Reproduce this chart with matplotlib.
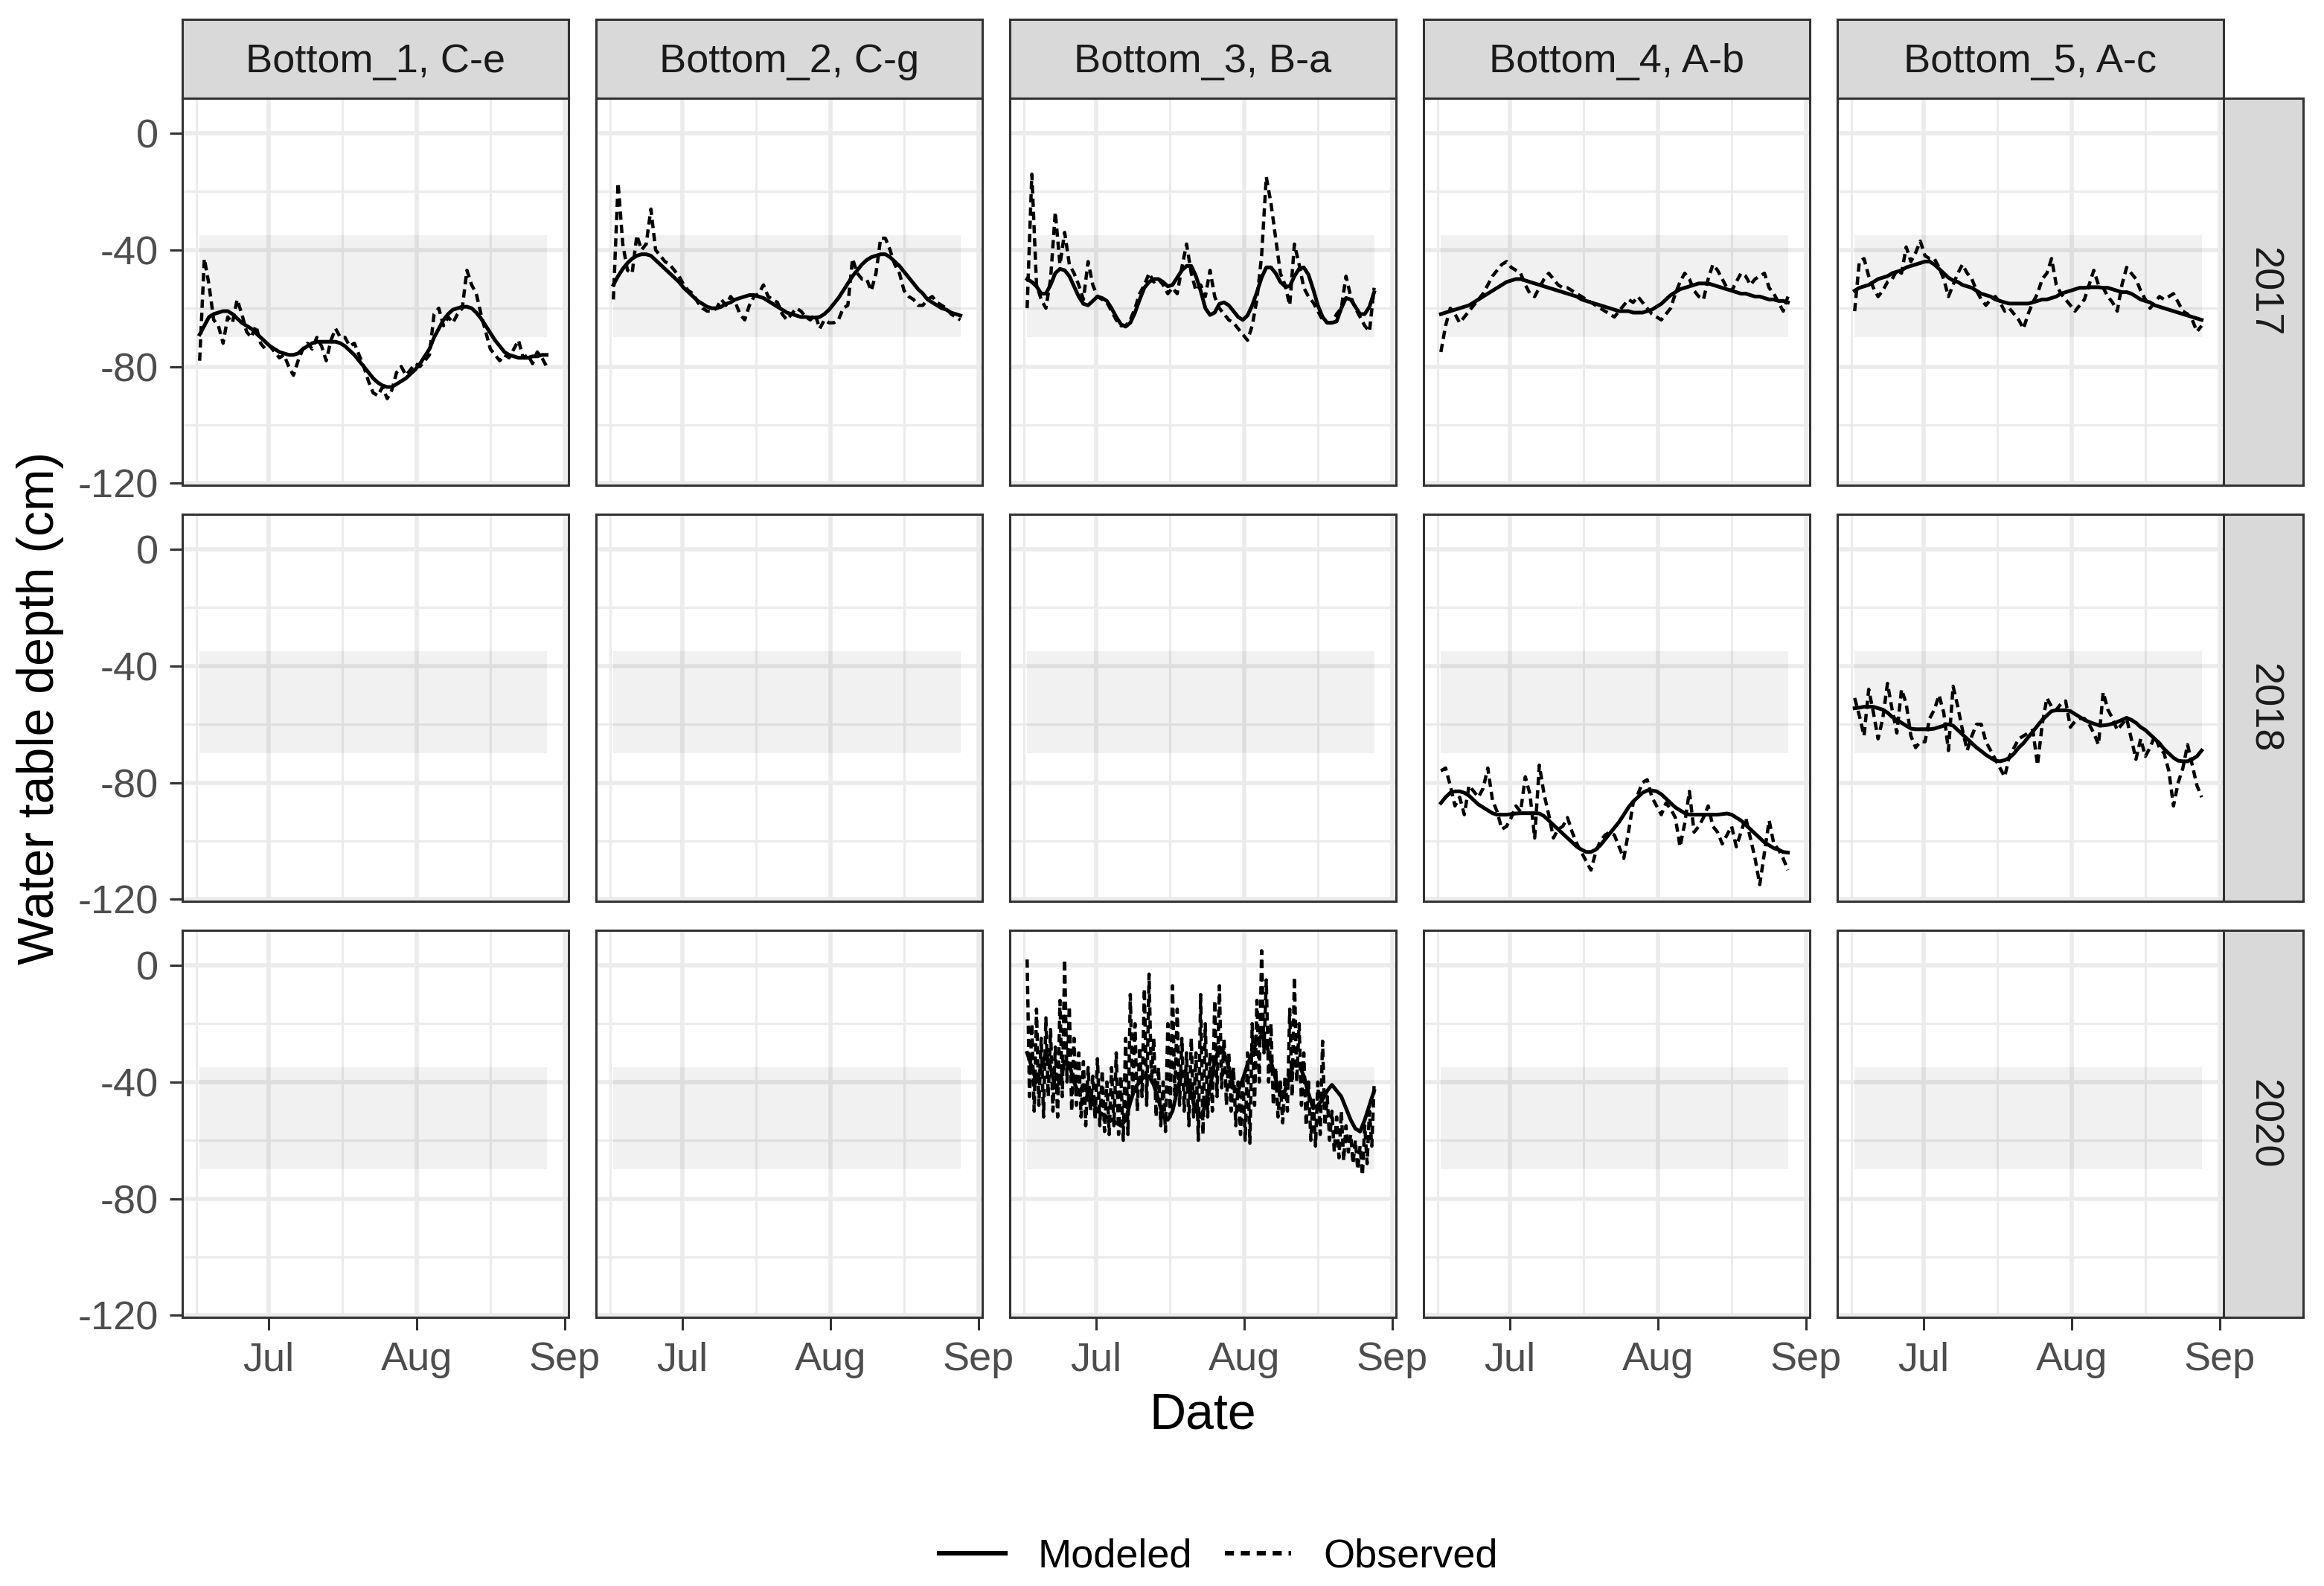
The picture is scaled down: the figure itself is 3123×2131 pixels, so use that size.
import numpy as np
import matplotlib
matplotlib.use('Agg')
import matplotlib.pyplot as plt
import matplotlib.dates as mdates
from matplotlib.lines import Line2D

plt.rcParams['font.family'] = ['Liberation Sans', 'DejaVu Sans']
plt.rcParams['axes.unicode_minus'] = False

years = ['2017', '2018', '2020']
sites = ['Bottom_1, C-e', 'Bottom_2, C-g', 'Bottom_3, B-a', 'Bottom_4, A-b', 'Bottom_5, A-c']

# all years share a common seasonal date axis
date_start = np.datetime64('2017-06-16T15:00')
date_end = np.datetime64('2017-08-28T06:00')

# target water table range (shaded band)
band_top = -35
band_bottom = -70

# daily values (cm)
mod_2017_b1 = [-69, -66, -63, -62, -61.5, -61, -61, -62, -63.5, -65,
               -66, -67, -68.5, -70, -71.5, -73, -74, -75, -75.5, -76,
               -76, -75.5, -74, -73, -72, -71.5, -71.5, -71.5, -71.5, -71.5,
               -72, -73, -74.5, -76, -78, -80, -82, -84, -85.5, -86.5,
               -87, -87, -86, -85, -84, -82.5, -81, -79, -76.5, -74,
               -70, -67, -64, -62, -60.5, -60, -59.5, -59.5, -60, -61.5,
               -63.5, -66, -68.5, -71, -73, -75, -76, -76.5, -77, -77,
               -77, -76.5, -76.5, -76, -76]
obs_2017_b1 = [-78, -43, -52, -64, -66, -72, -63, -65, -57, -62,
               -68, -70, -66, -72, -74, -73, -75, -77, -76, -80,
               -83, -78, -74, -72, -74, -70, -73, -78, -71, -67,
               -70, -70, -73, -72, -76, -80, -85, -89, -90, -87,
               -91, -88, -82, -80, -83, -81, -79, -80, -78, -76,
               -62, -60, -66, -63, -65, -62, -60, -47, -52, -55,
               -62, -68, -74, -76, -78, -76, -77, -74, -71, -77,
               -76, -79, -75, -77, -80]

mod_2017_b2 = [-52, -49, -46.5, -44.5, -43, -42, -41.5, -41.5, -42, -43.5,
               -45, -46.5, -48, -49.5, -51, -53, -54.5, -56, -57.5, -58.5,
               -59.5, -60, -60, -59.5, -58.5, -58, -57, -56.5, -56, -55.5,
               -55.5, -56, -56.5, -57.5, -58.5, -59.5, -60.5, -61.5, -62, -62.5,
               -63, -63, -63.2, -63.2, -63, -62, -60.5, -58.5, -56.5, -54,
               -51.5, -49, -47, -45, -43.5, -42.5, -42, -41.5, -41.5, -42.5,
               -44, -45.5, -47.5, -49.5, -51.5, -53.5, -55, -57, -58, -59,
               -60, -60.5, -61.5, -62, -62.5]
obs_2017_b2 = [-57, -17, -38, -47, -48, -35, -40, -38, -26, -40,
               -42, -44, -45, -47, -49, -52, -54, -55, -58, -60,
               -61, -61, -60, -57, -59, -56, -58, -62, -64, -59,
               -56, -55, -52, -56, -57, -58, -62, -64, -62, -60,
               -61, -63, -64, -62, -67, -64, -65, -65, -64, -60,
               -59, -43, -48, -50, -50, -54, -48, -36, -36, -40,
               -45, -48, -54, -56, -57, -59, -59, -57, -56, -58,
               -59, -60, -62, -63, -64]

mod_2017_b3 = [-50, -51, -52.5, -55, -55, -52, -48, -46.5, -47, -49,
               -52.5, -56, -58.5, -59, -57.5, -56, -56.5, -57.5, -60, -63,
               -65.5, -66.3, -65, -61.5, -57, -53, -51, -50, -50, -51,
               -52.5, -52, -49.5, -47, -45.5, -45.5, -49, -54, -60, -62.3,
               -61.5, -58.5, -58, -59, -61, -63, -64, -62.5, -59, -54.5,
               -49.5, -46, -46, -48, -51, -52.5, -52.5, -49, -46.5, -46,
               -48.5, -53.5, -59, -63, -65, -65, -64.5, -60, -56.5, -57,
               -59.5, -62, -62, -59.5, -54.5]
obs_2017_b3 = [-60, -14, -52, -57, -60, -50, -27, -45, -34, -45,
               -48, -52, -57, -44, -52, -56, -57, -58, -61, -64,
               -66, -66, -64, -60, -55, -52, -48, -51, -50, -52,
               -55, -53, -55, -46, -38, -48, -54, -52, -56, -47,
               -56, -60, -62, -64, -65, -67, -69, -71, -66, -57,
               -42, -15, -24, -36, -48, -52, -59, -38, -45, -53,
               -56, -58, -61, -64, -65, -65, -62, -60, -49, -56,
               -60, -63, -66, -68, -53]

mod_2017_b4 = [-62, -61.5, -61, -60.5, -60, -59.5, -59, -58, -57, -56,
               -55, -54, -53, -52, -51, -50.5, -50, -50, -50.5, -51,
               -51.5, -52, -52.5, -53, -53.5, -54, -54.5, -55, -55.5, -56,
               -57, -57.5, -58, -58.5, -59, -59.5, -60, -60.5, -61, -61,
               -61, -61.5, -61.5, -61.5, -61, -60.5, -59.5, -58.5, -57, -55.5,
               -54.5, -53.5, -53, -52.5, -52, -51.5, -51.5, -51.5, -52, -52.5,
               -53, -53.5, -54, -54.5, -55, -55, -55.5, -56, -56, -56.5,
               -57, -57, -57.5, -57.5, -58]
obs_2017_b4 = [-75, -66, -60, -62, -65, -63, -61, -59, -57, -55,
               -52, -49, -47, -45, -44, -46, -47, -48, -52, -55,
               -56, -53, -50, -48, -50, -52, -53, -53, -54, -55,
               -56, -57, -58, -59, -60, -61, -62, -63, -61, -59,
               -57, -58, -56, -58, -60, -62, -63, -64, -62, -60,
               -55, -51, -48, -50, -54, -56, -57, -50, -45, -47,
               -50, -53, -54, -51, -48, -49, -52, -50, -49, -48,
               -53, -55, -58, -61, -56]

mod_2017_b5 = [-54, -53, -52.5, -52, -51, -50, -49.5, -49, -48, -47.5,
               -47, -46, -45.5, -45, -44.5, -44, -44, -45, -46.5, -48,
               -49.5, -50.5, -51, -52, -52.5, -53, -54, -55, -55.5, -56,
               -57, -57.5, -58, -58.4, -58.4, -58.4, -58.4, -58.4, -58, -57.5,
               -57, -57, -56.5, -56, -55, -54.5, -54, -53.5, -53, -53,
               -52.8, -52.8, -52.8, -53, -53, -53.5, -54, -54.5, -54.5, -55,
               -56, -57, -57.5, -58, -59, -59.5, -60, -60.5, -61, -61.5,
               -62, -62.5, -63, -63.5, -64]
obs_2017_b5 = [-61, -44, -43, -49, -53, -56, -54, -51, -50, -47,
               -48, -39, -44, -41, -37, -42, -43, -43, -46, -50,
               -56, -52, -48, -45, -48, -50, -54, -57, -59, -57,
               -56, -58, -61, -60, -62, -64, -67, -62, -58, -55,
               -50, -48, -43, -52, -55, -57, -59, -61, -59, -57,
               -52, -47, -52, -53, -56, -58, -61, -52, -46, -48,
               -50, -54, -57, -60, -58, -56, -57, -56, -55, -58,
               -61, -62, -64, -68, -66]

mod_2018_b4 = [-87, -85, -83.5, -83, -83, -83.5, -84.5, -86, -87.5, -88.5,
               -89.5, -90.5, -91, -91, -91, -90.8, -90.6, -90.5, -90.5, -90.5,
               -90.5, -90.6, -91.5, -93, -94.5, -96, -97.5, -99, -100.5, -102,
               -103, -103.8, -103.8, -103, -101.5, -99.5, -97.5, -95.5, -93.5, -91,
               -88.5, -86.5, -85, -83.5, -82.7, -82.7, -83, -84, -85.5, -87,
               -88.5, -89.5, -90.5, -91, -91, -91, -91, -91, -91, -91,
               -90.8, -90.6, -91, -92, -93, -94.5, -96, -97.5, -99, -100.5,
               -101.5, -102.5, -103, -103.8, -104]
obs_2018_b4 = [-76, -75, -81, -88, -85, -91, -81, -83, -85, -82,
               -75, -86, -90, -96, -95, -92, -88, -90, -78, -84,
               -99, -74, -84, -91, -99, -96, -95, -92, -97, -101,
               -104, -107, -110, -104, -100, -98, -97, -98, -102, -106,
               -97, -87, -84, -80, -79, -85, -88, -91, -87, -89,
               -92, -102, -94, -83, -97, -95, -92, -88, -95, -97,
               -101, -98, -95, -102, -97, -92, -99, -106, -115, -104,
               -93, -101, -103, -106, -110]

mod_2018_b5 = [-54.5, -54.3, -54, -54, -54, -54.5, -55, -56, -57.5, -58.5,
               -59.5, -60.5, -61.5, -61.7, -61.7, -61.7, -61.7, -61.5, -61, -60.5,
               -60, -60.5, -62, -63.5, -65, -66.5, -68, -69.2, -70.5, -71.5,
               -72.5, -72.7, -72.3, -71.5, -70, -68, -66.5, -64.5, -62.5, -60.5,
               -58.5, -57, -55.5, -55.2, -55.2, -55.2, -55.5, -56.5, -57.5, -58.5,
               -59.2, -59.8, -60.3, -60.4, -60.2, -59.8, -59.2, -58.5, -57.8, -58.5,
               -59.5, -61, -62, -63.5, -65, -66.5, -68.5, -70, -71.5, -72.5,
               -72.7, -72.7, -72, -71, -69]
obs_2018_b5 = [-51, -57, -64, -48, -56, -65, -58, -46, -55, -63,
               -48, -53, -64, -68, -66, -66, -58, -55, -50, -56,
               -69, -47, -54, -62, -69, -64, -60, -60, -66, -69,
               -72, -75, -78, -71, -68, -65, -64, -63, -62, -74,
               -60, -51, -54, -55, -53, -52, -61, -59, -58, -58,
               -60, -63, -67, -49, -55, -58, -62, -60, -58, -65,
               -72, -65, -71, -68, -64, -68, -70, -76, -88, -80,
               -75, -67, -74, -81, -85]

mod_2020_b3 = [-30, -35, -40, -35, -30, -35, -42, -40, -33, -34,
               -40, -44, -41, -44, -47, -50, -51, -52, -53, -54,
               -55, -53, -47, -42, -40, -38, -38, -41, -46, -52,
               -53, -50, -43, -37, -38, -44, -50, -52, -48, -42,
               -33, -28, -30, -35, -42, -43, -39, -34, -30, -26,
               -24, -27, -33, -39, -44, -43, -38, -33, -34, -38,
               -44, -49, -48, -46, -43, -41, -43, -45, -49, -53,
               -56, -57, -53, -48, -43]
# twice-daily values (day / night)
obs_2020_b3 = [2, -45, -20, -50, -15, -48, -25, -52, -18, -45,
               -22, -50, -28, -52, -12, -45, 2, -40, -14, -50,
               -25, -48, -30, -52, -33, -55, -35, -50, -38, -53,
               -32, -55, -36, -57, -40, -58, -35, -55, -30, -58,
               -38, -60, -25, -58, -10, -45, -20, -50, -28, -45,
               -8, -48, -3, -40, -25, -52, -35, -55, -40, -57,
               -20, -52, -7, -45, -15, -48, -25, -50, -30, -55,
               -25, -52, -30, -60, -10, -58, -20, -52, -30, -50,
               -12, -45, -7, -42, -25, -48, -30, -50, -35, -55,
               -40, -58, -38, -60, -30, -61, -20, -48, -12, -40,
               5, -30, -5, -40, -20, -48, -35, -52, -40, -54,
               -38, -50, -15, -45, -4, -40, -20, -48, -30, -55,
               -40, -60, -45, -62, -40, -58, -26, -55, -45, -60,
               -50, -64, -52, -66, -50, -67, -55, -64, -58, -68,
               -60, -70, -62, -72, -55, -68, -50, -62, -41]

panels = {
    ('2017', 'Bottom_1, C-e'): (mod_2017_b1, obs_2017_b1),
    ('2017', 'Bottom_2, C-g'): (mod_2017_b2, obs_2017_b2),
    ('2017', 'Bottom_3, B-a'): (mod_2017_b3, obs_2017_b3),
    ('2017', 'Bottom_4, A-b'): (mod_2017_b4, obs_2017_b4),
    ('2017', 'Bottom_5, A-c'): (mod_2017_b5, obs_2017_b5),
    ('2018', 'Bottom_4, A-b'): (mod_2018_b4, obs_2018_b4),
    ('2018', 'Bottom_5, A-c'): (mod_2018_b5, obs_2018_b5),
    ('2020', 'Bottom_3, B-a'): (mod_2020_b3, obs_2020_b3),
}

t0 = mdates.date2num(date_start)
t1 = mdates.date2num(date_end)


def times(n):
    return np.linspace(t0, t1, n)


W, H = 3123, 2131
fig = plt.figure(figsize=(W / 200, H / 200), dpi=200)

col_left = [245, 801, 1357, 1913, 2469]
row_top = [132, 691, 1250]
pw, ph = 519, 520
edge = '#333333'


def rect(x, y, w, h):
    return [x / W, 1 - (y + h) / H, w / W, h / H]


xmin = mdates.date2num(np.datetime64('2017-06-13T00:00'))
xmax = mdates.date2num(np.datetime64('2017-09-01T20:00'))
month_starts = [mdates.date2num(np.datetime64(d)) for d in ['2017-06-01', '2017-07-01', '2017-08-01', '2017-09-01']]
minor_x = [(a + b) / 2 for a, b in zip(month_starts[:-1], month_starts[1:])]

for r, year in enumerate(years):
    for c, site in enumerate(sites):
        ax = fig.add_axes(rect(col_left[c], row_top[r], pw, ph))
        ax.set_xlim(xmin, xmax)
        ax.set_ylim(-120.7, 12.0)
        ax.xaxis_date()
        ax.set_xticks(month_starts[1:])
        ax.xaxis.set_major_formatter(mdates.DateFormatter('%b'))
        ax.set_xticks(minor_x, minor=True)
        ax.set_yticks([0, -40, -80, -120])
        ax.set_yticks([-20, -60, -100], minor=True)
        ax.set_axisbelow(True)
        ax.grid(which='major', color='#EBEBEB', lw=2.0)
        ax.grid(which='minor', color='#EBEBEB', lw=1.1)
        for s in ax.spines.values():
            s.set_color(edge)
            s.set_linewidth(1.1)
        ax.tick_params(which='minor', length=0)
        ax.tick_params(which='major', length=6.1, width=1.1, color=edge,
                       labelcolor='#4D4D4D', labelsize=19.5)
        ax.tick_params(axis='y', pad=5.5)
        ax.tick_params(axis='x', pad=5.5)
        if c != 0:
            ax.tick_params(axis='y', left=False, labelleft=False)
        if r != 2:
            ax.tick_params(axis='x', bottom=False, labelbottom=False)

        ax.fill_between([t0, t1], band_bottom, band_top, color='black', alpha=0.055, lw=0)

        if (year, site) in panels:
            mod, obs = panels[(year, site)]
            ax.plot(times(len(obs)), obs, color='black', lw=1.6, ls=(0, (2.5, 1.5)))
            ax.plot(times(len(mod)), mod, color='black', lw=1.8)

# facet strips
for c, site in enumerate(sites):
    sax = fig.add_axes(rect(col_left[c], 26, pw, 106))
    sax.set_facecolor('#D9D9D9')
    sax.set_xticks([])
    sax.set_yticks([])
    for s in sax.spines.values():
        s.set_color(edge)
        s.set_linewidth(1.1)
    sax.text(0.5, 0.46, site, ha='center', va='center', fontsize=19.5,
             color='#1A1A1A', transform=sax.transAxes)

for r, year in enumerate(years):
    sax = fig.add_axes(rect(2988, row_top[r], 107, ph))
    sax.set_facecolor('#D9D9D9')
    sax.set_xticks([])
    sax.set_yticks([])
    for s in sax.spines.values():
        s.set_color(edge)
        s.set_linewidth(1.1)
    sax.text(0.5, 0.5, year, ha='center', va='center', rotation=270,
             fontsize=19.5, color='#1A1A1A', transform=sax.transAxes)

fig.text(1616.5 / W, 1 - 1901 / H, 'Date', ha='center', va='center', fontsize=24.5)
fig.text(54 / W, 1 - 951 / H, 'Water table depth (cm)', ha='center', va='center',
         rotation=90, fontsize=24.5)

handles = [Line2D([], [], color='black', lw=2.2),
           Line2D([], [], color='black', lw=2.2, ls=(0, (2, 1.5)))]
fig.legend(handles, ['Modeled', 'Observed'], loc='center',
           bbox_to_anchor=(1637.5 / W, 1 - 2092 / H), ncol=2, frameon=False,
           fontsize=19.5, handlelength=1.63, handletextpad=0.8, columnspacing=0.83)

fig.savefig('out.png', dpi=200)
